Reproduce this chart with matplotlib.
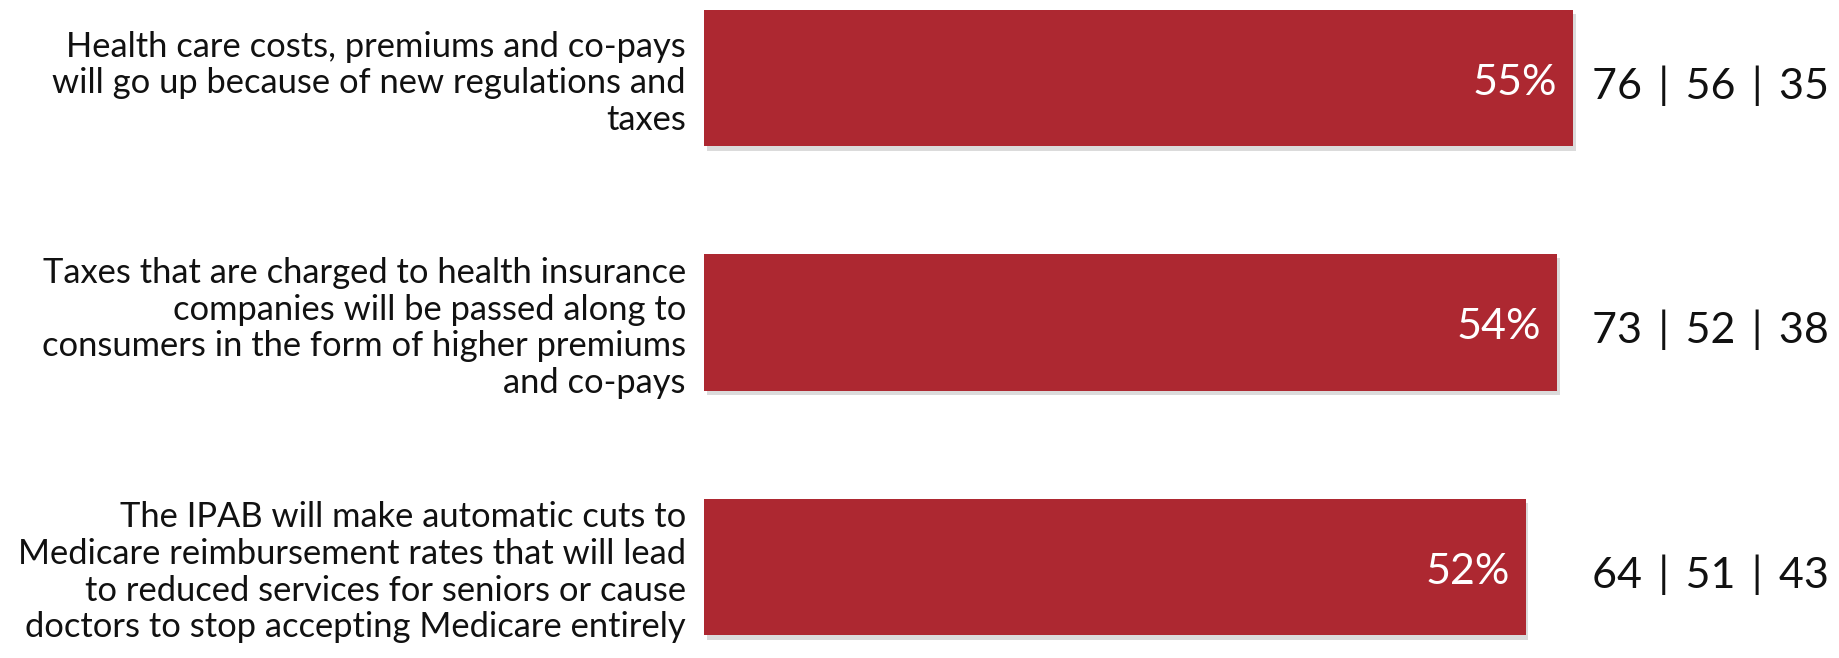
import matplotlib
matplotlib.use("Agg")
import matplotlib.pyplot as plt
import matplotlib.patheffects as pe

categories = [
    "Health care costs, premiums and co-pays\nwill go up because of new regulations and\ntaxes",
    "Taxes that are charged to health insurance\ncompanies will be passed along to\nconsumers in the form of higher premiums\nand co-pays",
    "The IPAB will make automatic cuts to\nMedicare reimbursement rates that will lead\nto reduced services for seniors or cause\ndoctors to stop accepting Medicare entirely",
]
totals = [55, 54, 52]
breakdowns = [["76", "56", "35"], ["73", "52", "38"], ["64", "51", "43"]]

bar_color = "#AD2831"
font = ["Lato", "DejaVu Sans"]

fig = plt.figure(figsize=(18.39, 6.58), dpi=100)
# bars start at x=704px, 15.8px per percentage point
ax = fig.add_axes([704 / 1839, 0, 1 - 704 / 1839, 1])
ax.set_xlim(0, (1839 - 704) / 15.8)
pitch = 244.5
ax.set_ylim(-78 / pitch + 658 / pitch, -78 / pitch)

ypos = list(range(len(totals)))
bars = ax.barh(ypos, totals, height=0.56, color=bar_color, zorder=2)
for b in bars:
    b.set_path_effects([pe.SimplePatchShadow(offset=(2, -3), shadow_rgbFace="#999999", alpha=0.35),
                        pe.Normal()])

ax.set_yticks(ypos)
ax.set_yticklabels(categories, fontsize=24.8, family=font, color="#111111", linespacing=1.18)
ax.tick_params(axis="y", length=0, pad=13)
ax.set_xticks([])
for s in ax.spines.values():
    s.set_visible(False)

sep = " \u2009|\u2009 "
for y, v, parts in zip(ypos, totals, breakdowns):
    ax.text(v - 1.0, y + 0.02, f"{v}%", ha="right", va="center", color="white",
            fontsize=31, family=font)
    ax.text(55 + 1.2, y + 0.03, sep.join(parts), ha="left", va="center", color="#111111",
            fontsize=31, family=font)

fig.savefig("out.png", dpi=100)
